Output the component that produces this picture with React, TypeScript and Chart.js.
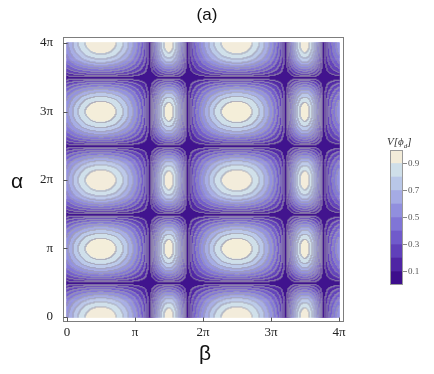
import React, { useEffect, useRef } from "react";
import { Chart, registerables } from "chart.js";
Chart.register(...registerables);

const PI = Math.PI;

// axis ticks (in units of π)
const betaTickValues = [0, 1, 2, 3, 4];
const betaTickLabels = ["0", "π", "2π", "3π", "4π"];
const alphaTickValues = [0, 1, 2, 3, 4];
const alphaTickLabels = ["0", "π", "2π", "3π", "4π"];

// contour levels and band colours (0–0.1 … 0.9–1.0)
const contourLevels = [0.1, 0.2, 0.3, 0.4, 0.5, 0.6, 0.7, 0.8, 0.9];
const bandColors = [
  "#3d0e8c",
  "#4f25a4",
  "#6040ba",
  "#705acb",
  "#8075d6",
  "#918fde",
  "#a5abe4",
  "#b9c7e8",
  "#cfdfe9",
  "#f3ecd9",
];
const contourLineColor = "#a3a1b0";

// colour bar
const colorbarBandSizes = [0.1, 0.1, 0.1, 0.1, 0.1, 0.1, 0.1, 0.1, 0.1, 0.1];
const colorbarTicks = [0.1, 0.3, 0.5, 0.7, 0.9];

// field parameters
const betaZeroCrossing = 1.22; // (×π) first zero of V between the big and small lobes
const lobePeaks = [0.99, 0.97]; // peak of the lobe at β=π/2 and at β=3π/2
const lobeExponents = [0.6, 1.0]; // sharpness of the big / small lobe
const alphaExponent = 0.75; // shape of the α-profile
const gridPerPi = 68; // sampling of the plotted surface

const offset = Math.sin((betaZeroCrossing - 1) * PI);

function betaProfile(b: number) {
  const g = Math.sin(PI * b) + offset;
  if (g >= 0) return lobePeaks[0] * (g / (1 + offset)) ** lobeExponents[0];
  return lobePeaks[1] * (-g / (1 - offset)) ** lobeExponents[1];
}
function alphaProfile(a: number) {
  return Math.abs(Math.cos(PI * a)) ** alphaExponent;
}
function bandIndex(v: number) {
  let k = 0;
  while (k < contourLevels.length && v >= contourLevels[k]) k++;
  return k;
}

function buildDatasets() {
  const n = 4 * gridPerPi + 1;
  const bands: number[][] = [];
  for (let j = 0; j < n; j++) {
    const a = (j * 4) / (n - 1);
    const rowB: number[] = [];
    for (let i = 0; i < n; i++) {
      const b = (i * 4) / (n - 1);
      rowB.push(bandIndex(alphaProfile(a) * betaProfile(b)));
    }
    bands.push(rowB);
  }
  const bandData: { x: number; y: number }[][] = bandColors.map(() => []);
  const lineData: { x: number; y: number }[] = [];
  for (let j = 0; j < n; j++) {
    for (let i = 0; i < n; i++) {
      const pt = { x: (i * 4) / (n - 1), y: (j * 4) / (n - 1) };
      const k = bands[j][i];
      bandData[k].push(pt);
      const right = i + 1 < n ? bands[j][i + 1] : k;
      const up = j + 1 < n ? bands[j + 1][i] : k;
      if (right !== k || up !== k) lineData.push(pt);
    }
  }
  const ds: any[] = bandData.map((d, k) => ({
    data: d,
    pointStyle: "rect",
    pointRadius: 1.05,
    pointHoverRadius: 1.05,
    pointBorderWidth: 0,
    pointBackgroundColor: bandColors[k],
    backgroundColor: bandColors[k],
    borderWidth: 0,
    order: 2,
  }));
  ds.push({
    data: lineData,
    pointStyle: "rect",
    pointRadius: 0.7,
    pointHoverRadius: 0.7,
    pointBorderWidth: 0,
    pointBackgroundColor: contourLineColor,
    backgroundColor: contourLineColor,
    borderWidth: 0,
    order: 1,
  });
  return ds;
}

const framePlugin = {
  id: "frameTicks",
  afterDatasetsDraw(chart: any) {
    const { ctx, chartArea } = chart;
    const { left, top, right, bottom } = chartArea;
    ctx.save();
    ctx.strokeStyle = "#7d7d7d";
    ctx.lineWidth = 1;
    const l = Math.round(left) + 0.5;
    const t = Math.round(top) + 0.5;
    const r = Math.round(right) - 0.5;
    const b = Math.round(bottom) - 0.5;
    ctx.strokeRect(l, t, r - l, b - t);
    ctx.strokeStyle = "#555";
    const xs = chart.scales.x;
    const ys = chart.scales.y;
    ctx.beginPath();
    for (const v of betaTickValues) {
      const px = Math.round(xs.getPixelForValue(v)) + 0.5;
      ctx.moveTo(px, b);
      ctx.lineTo(px, b - 4);
    }
    for (const v of alphaTickValues) {
      const py = Math.round(ys.getPixelForValue(v)) + 0.5;
      ctx.moveTo(l, py);
      ctx.lineTo(l + 4, py);
    }
    ctx.stroke();
    ctx.restore();
  },
};

const barFramePlugin = {
  id: "barFrame",
  afterDatasetsDraw(chart: any) {
    const { ctx, chartArea } = chart;
    ctx.save();
    ctx.strokeStyle = "#9a9a9a";
    ctx.lineWidth = 1;
    ctx.strokeRect(
      Math.round(chartArea.left) + 0.5,
      Math.round(chartArea.top) + 0.5,
      Math.round(chartArea.right - chartArea.left) - 1,
      Math.round(chartArea.bottom - chartArea.top) - 1
    );
    ctx.restore();
  },
};

export default function App() {
  const mainRef = useRef<HTMLCanvasElement>(null);
  const barRef = useRef<HTMLCanvasElement>(null);

  useEffect(() => {
    const tickFont = { family: "'Liberation Serif', 'DejaVu Serif', serif", size: 13 };
    const main = new Chart(mainRef.current!, {
      type: "scatter",
      data: { datasets: buildDatasets() },
      plugins: [framePlugin],
      options: {
        responsive: false,
        animation: false,
        devicePixelRatio: 1,
        events: [],
        parsing: false,
        normalized: true,
        layout: { padding: { top: 37, right: 90, left: 0, bottom: 0 } },
        plugins: { legend: { display: false }, tooltip: { enabled: false }, title: { display: false } },
        scales: {
          x: {
            type: "linear",
            min: -0.0588,
            max: 4.0735,
            grid: { display: false, drawTicks: false },
            border: { display: false },
            afterBuildTicks: (s: any) => {
              s.ticks = betaTickValues.map((v) => ({ value: v }));
            },
            afterFit: (s: any) => {
              s.height = 52;
            },
            ticks: {
              font: tickFont,
              color: "#222",
              padding: 3,
              maxRotation: 0,
              autoSkip: false,
              callback: (v: any) => betaTickLabels[betaTickValues.indexOf(Number(v))] ?? "",
            },
          },
          y: {
            type: "linear",
            min: -0.073,
            max: 4.0876,
            grid: { display: false, drawTicks: false },
            border: { display: false },
            afterBuildTicks: (s: any) => {
              s.ticks = alphaTickValues.map((v) => ({ value: v }));
            },
            afterFit: (s: any) => {
              s.width = 63;
            },
            ticks: {
              font: tickFont,
              color: "#222",
              padding: 10,
              autoSkip: false,
              callback: (v: any) => alphaTickLabels[alphaTickValues.indexOf(Number(v))] ?? "",
            },
          },
        },
      } as any,
    });

    const bar = new Chart(barRef.current!, {
      type: "bar",
      data: {
        labels: ["V"],
        datasets: colorbarBandSizes.map((s, k) => ({
          data: [s],
          backgroundColor: bandColors[k],
          borderWidth: 0,
          barPercentage: 1,
          categoryPercentage: 1,
        })),
      },
      plugins: [barFramePlugin],
      options: {
        responsive: false,
        animation: false,
        devicePixelRatio: 1,
        events: [],
        layout: { padding: { top: 10, left: 5, right: 0, bottom: 15 } },
        plugins: { legend: { display: false }, tooltip: { enabled: false } },
        scales: {
          x: { stacked: true, display: false },
          y: {
            stacked: true,
            position: "right",
            min: 0,
            max: 1,
            grid: { display: true, drawOnChartArea: false, drawTicks: true, tickLength: 4, color: "#888" },
            border: { display: false },
            afterBuildTicks: (s: any) => {
              s.ticks = colorbarTicks.map((v) => ({ value: v }));
            },
            afterFit: (s: any) => {
              s.width = 31;
            },
            ticks: {
              font: { family: "'Liberation Serif', 'DejaVu Serif', serif", size: 9 },
              color: "#555",
              padding: 1,
              autoSkip: false,
              callback: (v: any) => Number(v).toFixed(1),
            },
          },
        },
      } as any,
    });

    return () => {
      main.destroy();
      bar.destroy();
    };
  }, []);

  const sans = "'Liberation Sans', Arial, sans-serif";
  return (
    <div style={{ position: "absolute", left: 0, top: 0, width: 434, height: 374, background: "#fff", overflow: "hidden" }}>
      <canvas ref={mainRef} width={434} height={374} style={{ position: "absolute", left: 0, top: 0 }} />
      <canvas ref={barRef} width={49} height={160} style={{ position: "absolute", left: 385, top: 140 }} />
      <div style={{ position: "absolute", left: 0, width: 414, top: 5, textAlign: "center", font: `17px ${sans}`, color: "#111" }}>
        (a)
      </div>
      <div style={{ position: "absolute", left: 11, top: 169, font: `21px ${sans}`, color: "#111" }}>α</div>
      <div style={{ position: "absolute", left: 199, top: 341, font: `21px ${sans}`, color: "#111" }}>β</div>
      <div
        style={{
          position: "absolute",
          left: 387,
          top: 135,
          font: `italic 11px 'Liberation Serif', serif`,
          color: "#333",
          whiteSpace: "nowrap",
        }}
      >
        V[ϕ<sub style={{ fontSize: 7 }}>d</sub>]
      </div>
    </div>
  );
}
